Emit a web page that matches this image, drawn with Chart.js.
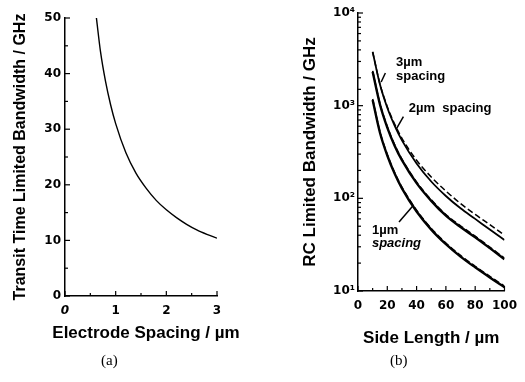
<!DOCTYPE html>
<html>
<head>
<meta charset="utf-8">
<script src="https://cdn.jsdelivr.net/npm/chart.js@4.4.1/dist/chart.umd.min.js"></script>
<style>
  body { margin: 0; background: #fff; width: 525px; height: 382px; position: relative; overflow: hidden; }
  .panel { position: absolute; top: 0; }
  .caption { position: absolute; font-family: "Liberation Serif", serif; font-size: 15px; color: #000; }
  .xtitle { position: absolute; font-family: "Liberation Sans", sans-serif; font-weight: bold; font-size: 17px;
            line-height: 20px; text-align: center; color: #000; white-space: nowrap; }
</style>
</head>
<body>
<div class="panel" style="left:0"><canvas id="chartA" width="262" height="350"></canvas></div>
<div class="panel" style="left:262px"><canvas id="chartB" width="263" height="350"></canvas></div>
<div class="xtitle" style="left:46px; top:323px; width:200px">Electrode Spacing / &micro;m</div>
<div class="caption" style="left:101px; top:352px">(a)</div>
<div class="caption" style="left:390px; top:352px">(b)</div>
<script>
// --- datos ---

// (a) ancho de banda por tiempo de transito
const electrodeSpacing = [0.62, 0.7, 0.8, 0.9, 1.0, 1.2, 1.4, 1.6, 1.8, 2.0, 2.2, 2.4, 2.6, 2.8, 3.0];
const transitBandwidth = [50, 44, 38.6, 34.4, 31, 25.8, 22.1, 19.4, 17.2, 15.5, 14.1, 12.9, 11.9, 11.1, 10.4];

// (b) ancho de banda RC
const sideLength = [10, 15, 20, 25, 30, 40, 50, 60, 70, 80, 90, 100];
const rc1um = [1150, 510, 290, 185, 128, 72, 46, 32, 23.5, 18, 14, 11];
const rc1umDashed = [1180, 522, 298, 190, 132, 74.5, 47.5, 33, 24.2, 18.5, 14.4, 11.3];
const rc2um = [2320, 1030, 580, 370, 258, 146, 94, 65, 49, 38, 29, 22];
const rc2umDashed = [2370, 1055, 595, 380, 265, 150, 96.5, 67, 50.5, 39, 29.8, 22.6];
const rc3um = [3810, 1690, 950, 610, 422, 238, 152, 106, 78, 60, 46, 35.5];
const rc3umDashed = [3810, 1710, 975, 635, 445, 258, 170, 120, 88, 67, 52, 40];

const ticksB = ['10\u00B9', '10\u00B2', '10\u00B3', '10\u2074'];

const TICK_FONT = { family: '"DejaVu Sans"', size: 12, weight: 'bold' };

function toPoints(xs, ys) {
  return xs.map((x, i) => ({ x: x, y: ys[i] }));
}

/**
 * Dibuja las marcas de los ejes hacia dentro (largas si tienen etiqueta).
 */
const inwardTicks = {
  id: 'inwardTicks',
  afterDraw(chart) {
    const ctx = chart.ctx;
    const area = chart.chartArea;
    const xs = chart.scales.x;
    const ys = chart.scales.y;
    ctx.save();
    ctx.strokeStyle = '#000';
    ctx.lineWidth = 1.2;
    xs.ticks.forEach(t => {
      const px = xs.getPixelForValue(t.value);
      const len = t.label !== '' ? 5 : 3;
      ctx.beginPath();
      ctx.moveTo(px, area.bottom);
      ctx.lineTo(px, area.bottom - len);
      ctx.stroke();
    });
    ys.ticks.forEach(t => {
      const py = ys.getPixelForValue(t.value);
      const len = t.label !== '' ? 5 : 3;
      ctx.beginPath();
      ctx.moveTo(area.left, py);
      ctx.lineTo(area.left + len, py);
      ctx.stroke();
    });
    ctx.restore();
  }
};

/**
 * Etiquetas de texto y flechas colocadas en coordenadas de datos.
 */
function makeNotes(notes, pointers) {
  return {
    id: 'notes',
    afterDatasetsDraw(chart) {
      const ctx = chart.ctx;
      const xs = chart.scales.x;
      const ys = chart.scales.y;
      ctx.save();
      ctx.fillStyle = '#000';
      ctx.textAlign = 'left';
      ctx.textBaseline = 'middle';
      notes.forEach(n => {
        ctx.font = n.font;
        ctx.fillText(n.text, xs.getPixelForValue(n.x), ys.getPixelForValue(n.y));
      });
      ctx.strokeStyle = '#000';
      ctx.lineWidth = 1.5;
      pointers.forEach(p => {
        ctx.beginPath();
        ctx.moveTo(xs.getPixelForValue(p[0]), ys.getPixelForValue(p[1]));
        ctx.lineTo(xs.getPixelForValue(p[2]), ys.getPixelForValue(p[3]));
        ctx.stroke();
      });
      ctx.restore();
    }
  };
}

// --- grafico (a) ---
new Chart(document.getElementById('chartA'), {
  type: 'line',
  data: {
    datasets: [{
      data: toPoints(electrodeSpacing, transitBandwidth),
      borderColor: '#000',
      borderWidth: 1.4,
      pointRadius: 0,
      cubicInterpolationMode: 'monotone',
      fill: false
    }]
  },
  options: {
    responsive: false,
    animation: false,
    layout: { padding: { top: 18, right: 45, left: 0, bottom: 0 } },
    plugins: { legend: { display: false }, tooltip: { enabled: false } },
    scales: {
      x: {
        type: 'linear',
        min: 0, max: 3,
        afterFit: s => { s.height = 54; },
        grid: { display: false, drawTicks: false },
        border: { display: true, color: '#000', width: 1.5 },
        ticks: {
          stepSize: 0.5,
          autoSkip: false,
          maxRotation: 0,
          padding: 8,
          color: '#000',
          font: ctx => ({ ...TICK_FONT, style: ctx.tick && ctx.tick.value === 0 ? 'italic' : 'normal' }),
          callback: v => (Number.isInteger(v) ? String(v) : '')
        },
        // el titulo de este eje va en HTML (Chart.js lo comprime al ancho del eje)
        title: { display: false }
      },
      y: {
        min: 0, max: 50,
        afterFit: s => { s.width = 65; },
        grid: { display: false, drawTicks: false },
        border: { display: true, color: '#000', width: 1.5 },
        ticks: {
          stepSize: 5,
          autoSkip: false,
          padding: 4,
          color: '#000',
          font: TICK_FONT,
          callback: v => (v % 10 === 0 ? String(v) : '')
        },
        title: {
          display: true,
          text: 'Transit Time Limited Bandwidth / GHz',
          color: '#000',
          font: { family: '"Liberation Sans"', size: 16, weight: 'bold' },
          padding: { top: 11, bottom: 0 }
        }
      }
    }
  },
  plugins: [inwardTicks]
});

// --- grafico (b) ---
const solidStyle = { borderColor: '#000', borderWidth: 2.4, pointRadius: 0, cubicInterpolationMode: 'monotone', fill: false };
const dashedStyle = { borderColor: '#000', borderWidth: 1.5, borderDash: [6, 3], pointRadius: 0, cubicInterpolationMode: 'monotone', fill: false };

const notesB = [
  { text: '3\u00B5m', x: 26, y: 2950, font: 'bold 13px "Liberation Sans"' },
  { text: 'spacing', x: 26, y: 2085, font: 'bold 13px "Liberation Sans"' },
  { text: '2\u00B5m  spacing', x: 34.7, y: 942, font: 'bold 13px "Liberation Sans"' },
  { text: '1\u00B5m', x: 9.5, y: 45.5, font: 'bold 13px "Liberation Sans"' },
  { text: 'spacing', x: 9.5, y: 33, font: 'italic bold 13px "Liberation Sans"' }
];
const pointersB = [
  [18.7, 2250, 15.8, 1800],
  [31, 760, 26, 555],
  [28, 55.5, 38, 84.7]
];

new Chart(document.getElementById('chartB'), {
  type: 'line',
  data: {
    datasets: [
      { data: toPoints(sideLength, rc1um), ...solidStyle },
      { data: toPoints(sideLength, rc1umDashed), ...dashedStyle },
      { data: toPoints(sideLength, rc2um), ...solidStyle },
      { data: toPoints(sideLength, rc2umDashed), ...dashedStyle },
      { data: toPoints(sideLength, rc3um), ...solidStyle, borderWidth: 1.8 },
      { data: toPoints(sideLength, rc3umDashed), ...dashedStyle }
    ]
  },
  options: {
    responsive: false,
    animation: false,
    layout: { padding: { top: 13, right: 17, left: 0, bottom: 0 } },
    plugins: { legend: { display: false }, tooltip: { enabled: false } },
    scales: {
      x: {
        type: 'linear',
        min: 0, max: 100,
        afterFit: s => { s.height = 59; },
        grid: { display: false, drawTicks: false },
        border: { display: true, color: '#000', width: 1.5 },
        ticks: {
          stepSize: 10,
          autoSkip: false,
          maxRotation: 0,
          padding: 8,
          color: '#000',
          font: TICK_FONT,
          callback: v => (v % 20 === 0 ? String(v) : '')
        },
        title: {
          display: true,
          text: 'Side Length / \u00B5m',
          color: '#000',
          font: { family: '"Liberation Sans"', size: 17, weight: 'bold' },
          padding: { top: 0, bottom: 1 }
        }
      },
      y: {
        type: 'logarithmic',
        min: 10, max: 10000,
        afterFit: s => { s.width = 96; },
        grid: { display: false, drawTicks: false },
        border: { display: true, color: '#000', width: 1.5 },
        ticks: {
          autoSkip: false,
          padding: 3,
          color: '#000',
          font: TICK_FONT,
          callback: v => {
            const e = Math.log10(v);
            return Math.abs(e - Math.round(e)) < 1e-9 ? ticksB[Math.round(e) - 1] : '';
          }
        },
        title: {
          display: true,
          text: 'RC Limited Bandwidth / GHz',
          color: '#000',
          font: { family: '"Liberation Sans"', size: 17, weight: 'bold' },
          padding: { top: 38, bottom: 0 }
        }
      }
    }
  },
  plugins: [inwardTicks, makeNotes(notesB, pointersB)]
});
</script>
</body>
</html>
